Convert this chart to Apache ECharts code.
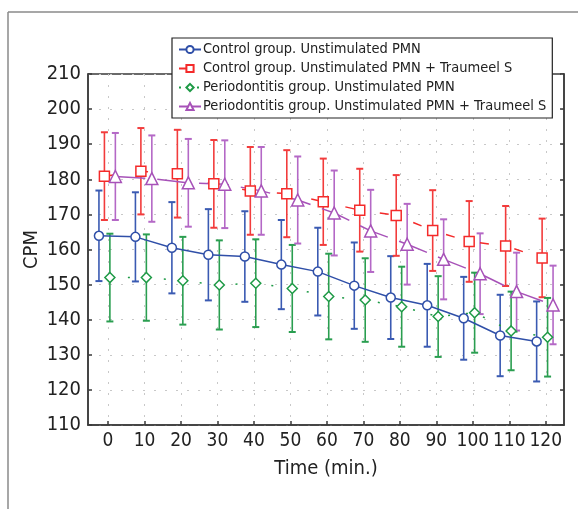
<!DOCTYPE html>
<html>
<head>
<meta charset="utf-8">
<script src="https://cdn.jsdelivr.net/npm/echarts@6/dist/echarts.min.js"></script>
<style>html,body{margin:0;padding:0;background:#fff;}#c{width:578px;height:509px;}</style>
</head>
<body>
<div id="c"></div>
<script>
const times = [0,10,20,30,40,50,60,70,80,90,100,110,120];
const xTicks = [0,10,20,30,40,50,60,70,80,90,100,110,120];
const yTicks = [110,120,130,140,150,160,170,180,190,200,210];
const seriesNames = [
  'Control group. Unstimulated PMN',
  'Control group. Unstimulated PMN + Traumeel S',
  'Periodontitis group. Unstimulated PMN',
  'Periodontitis group. Unstimulated PMN + Traumeel S'
];
const ctrlMean = [163.9,163.6,160.5,158.5,158.0,155.7,153.7,149.7,146.3,144.1,140.4,135.5,133.8];
const ctrlErr  = [12.9,12.7,13.0,13.0,12.9,12.7,12.5,12.3,11.8,11.8,11.8,11.6,11.4];
const ctrlTrMean = [180.9,182.3,181.6,178.7,176.7,175.9,173.6,171.2,169.7,165.4,162.3,161.0,157.6];
const ctrlTrErr  = [12.5,12.3,12.5,12.5,12.5,12.4,12.3,11.8,11.5,11.5,11.5,11.4,11.2];
const perioMean = [152.0,152.0,151.1,149.9,150.4,148.9,146.6,145.6,143.7,140.9,142.0,136.8,135.0];
const perioErr  = [12.5,12.3,12.5,12.7,12.5,12.4,12.2,11.9,11.4,11.5,11.4,11.2,11.2];
const perioTrMean = [180.8,180.2,179.0,178.6,176.7,174.1,170.4,165.3,161.5,157.2,153.1,148.0,144.2];
const perioTrErr  = [12.4,12.3,12.5,12.5,12.5,12.4,12.1,11.7,11.5,11.4,11.5,11.1,11.2];
// horizontal dodge of each group, in minutes
const dodge = [-2.5, -1, 0.5, 2];

const means = [ctrlMean, ctrlTrMean, perioMean, perioTrMean];
const errs = [ctrlErr, ctrlTrErr, perioErr, perioTrErr];
const lineColors = ['#2f4fa8', '#f42a2a', '#1e9a46', '#a752b8'];
const barColors = ['#3a5ab2', '#f23c3c', '#2a9e50', '#b468c6'];
const symbols = ['circle', 'rect', 'diamond', 'triangle'];
const symSizes = [9, 10, 10, 12];
const lineTypes = ['solid', [9, 26], [2, 16], [30, 12]];

const FONT = "'DejaVu Sans Condensed', 'Liberation Sans Narrow', sans-serif";

const series = [];
for (let s = 0; s < 4; s++) {
  const errData = times.map((t, i) => [t + dodge[s], means[s][i] + errs[s][i], means[s][i] - errs[s][i]]);
  series.push({
    type: 'custom',
    name: seriesNames[s] + ' err',
    z: 2,
    silent: true,
    encode: { x: 0, y: [1, 2] },
    data: errData,
    renderItem: function (params, api) {
      const x = api.value(0);
      const top = api.coord([x, api.value(1)]);
      const bot = api.coord([x, api.value(2)]);
      const hw = 3.5;
      const st = { stroke: barColors[s], lineWidth: 1.6 };
      return {
        type: 'group',
        children: [
          { type: 'line', shape: { x1: top[0], y1: top[1], x2: bot[0], y2: bot[1] }, style: st },
          { type: 'line', shape: { x1: top[0] - hw, y1: top[1], x2: top[0] + hw, y2: top[1] }, style: { stroke: barColors[s], lineWidth: 2 } },
          { type: 'line', shape: { x1: bot[0] - hw, y1: bot[1], x2: bot[0] + hw, y2: bot[1] }, style: { stroke: barColors[s], lineWidth: 2 } }
        ]
      };
    }
  });
  series.push({
    type: 'line',
    name: seriesNames[s],
    z: 3,
    data: times.map((t, i) => [t + dodge[s], means[s][i]]),
    symbol: symbols[s],
    symbolSize: symSizes[s],
    showAllSymbol: true,
    lineStyle: { color: lineColors[s], width: 1.5, type: lineTypes[s] },
    itemStyle: { color: '#fff', borderColor: lineColors[s], borderWidth: 1.5 },
    emphasis: { disabled: true },
    animation: false
  });
}

const chart = echarts.init(document.getElementById('c'), null, { renderer: 'canvas' });
chart.setOption({
  animation: false,
  backgroundColor: '#fff',
  textStyle: { fontFamily: FONT },
  grid: { left: 88, right: 14, top: 74, bottom: 84, show: true, borderColor: '#3a3a3a', borderWidth: 1.5, backgroundColor: 'transparent' },
  legend: {
    data: seriesNames,
    orient: 'vertical',
    left: 172, top: 38,
    padding: [3, 6, 3, 6],
    itemGap: 2,
    itemWidth: 22, itemHeight: 9,
    backgroundColor: '#fff',
    borderColor: '#222', borderWidth: 1.2,
    textStyle: { fontFamily: FONT, fontSize: 14.5, lineHeight: 17, color: '#222', padding: [0, 0, 0, -3] },
    selectedMode: false
  },
  xAxis: [{
    type: 'value', min: -5.5, max: 125,
    name: 'Time (min.)', nameLocation: 'middle', nameGap: 34,
    nameTextStyle: { fontFamily: FONT, fontSize: 20, color: '#222' },
    axisLine: { show: true, onZero: false, lineStyle: { color: '#3a3a3a', width: 1.5 } },
    axisTick: { show: true, inside: true, length: 4, customValues: xTicks, lineStyle: { color: '#3a3a3a', width: 1.5 } },
    axisLabel: { customValues: xTicks, fontFamily: FONT, fontSize: 19, color: '#222', margin: 7, hideOverlap: false, showMaxLabel: true, showMinLabel: true },
    splitLine: { show: true, lineStyle: { color: '#c8c8c8', type: [2, 9], width: 1 } }
  }],
  yAxis: [{
    type: 'value', min: 110, max: 210, interval: 10,
    name: 'CPM', nameLocation: 'middle', nameGap: 46, nameMoveOverlap: false,
    nameTextStyle: { fontFamily: FONT, fontSize: 20, color: '#222' },
    axisLine: { show: true, onZero: false, lineStyle: { color: '#3a3a3a', width: 1.5 } },
    axisTick: { show: true, inside: true, length: 4, lineStyle: { color: '#3a3a3a', width: 1.5 } },
    axisLabel: { fontFamily: FONT, fontSize: 20, color: '#222', margin: 7 },
    splitLine: { show: true, lineStyle: { color: '#c8c8c8', type: [2, 9], width: 1 } }
  }, {
    type: 'value', min: 110, max: 210, interval: 10, position: 'right',
    axisLine: { show: true, onZero: false, lineStyle: { color: '#3a3a3a', width: 1.5 } },
    axisTick: { show: true, inside: true, length: 4, lineStyle: { color: '#3a3a3a', width: 1.5 } },
    axisLabel: { show: false },
    splitLine: { show: false }
  }],
  graphic: [
    { type: 'line', shape: { x1: 8, y1: 12, x2: 578, y2: 12 }, style: { stroke: '#8a8a8a', lineWidth: 1.5 }, z: -1 },
    { type: 'line', shape: { x1: 8, y1: 12, x2: 8, y2: 509 }, style: { stroke: '#8a8a8a', lineWidth: 1.5 }, z: -1 }
  ],
  series: series
});
</script>
</body>
</html>
